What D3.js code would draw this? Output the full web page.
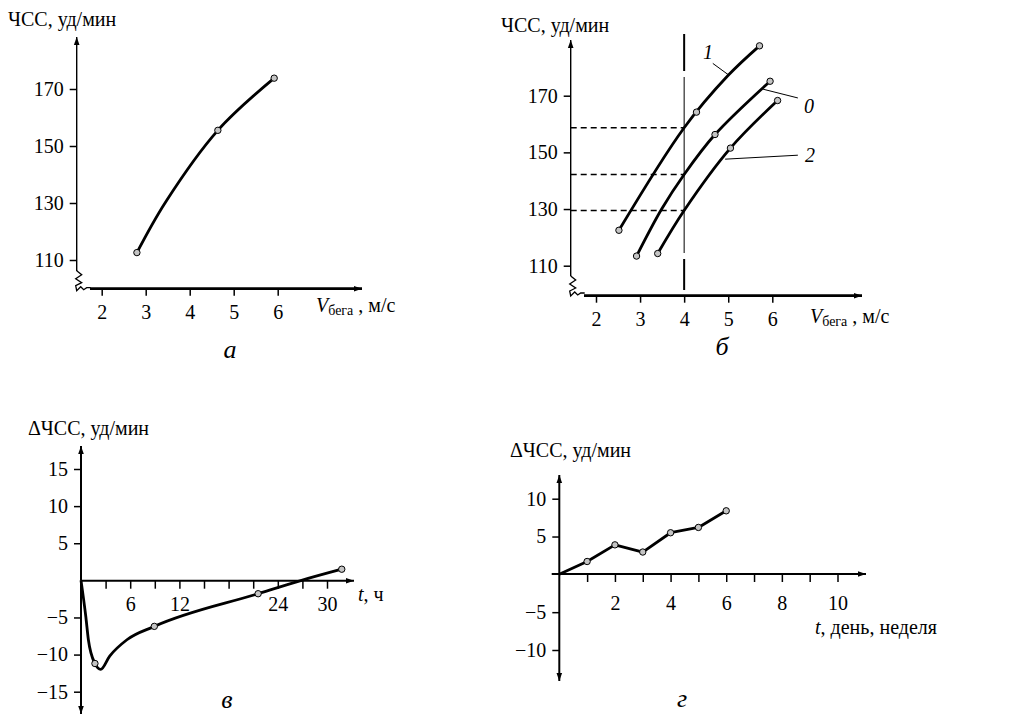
<!DOCTYPE html>
<html>
<head>
<meta charset="utf-8">
<script src="https://cdn.jsdelivr.net/npm/d3@7"></script>
</head>
<body style="margin:0; background:#fff">
<div id="chart"></div>
<script>
/* global d3 */

// panel a: ЧСС vs speed
let aTicksX = [2, 3, 4, 5, 6];
let aTicksY = [110, 130, 150, 170];
let aCurve = [[2.8, 112.6], [3.45, 130.3], [4.64, 155.5], [5.92, 173.8]];
let aPoints = [[2.8, 112.6], [4.64, 155.5], [5.92, 173.8]];

// panel b: three curves (1, 0, 2)
let bTicksX = [2, 3, 4, 5, 6];
let bTicksY = [110, 130, 150, 170];
let bCurve1 = [[2.52, 122.5], [4, 158.7], [5.0, 177.2], [5.71, 187.6]];
let bCurve0 = [[2.92, 113.4], [3.49, 130], [4, 142.2], [4.7, 156.3], [5.95, 175.1]];
let bCurve2 = [[3.4, 114.3], [4, 129.5], [5.05, 151.5], [6.12, 168.3]];
let bPoints1 = [[2.52, 122.5], [4.28, 164.2], [5.71, 187.6]];
let bPoints0 = [[2.92, 113.4], [4.7, 156.3], [5.95, 175.1]];
let bPoints2 = [[3.4, 114.3], [5.05, 151.5], [6.12, 168.3]];
let bLevel = 4;
let bCrossings = [158.7, 142.2, 129.5];
let bLabels = [
    {name: "1", text: [4.43, 183.1], from: [4.65, 181.4], to: [5.02, 177.2]},
    {name: "0", text: [6.72, 164], from: [5.79, 172.3], to: [6.58, 169.2]},
    {name: "2", text: [6.74, 146.6], from: [4.93, 147.6], to: [6.58, 149]}
];

// panel в: ΔЧСС over hours
let cTicksX = [3, 6, 9, 12, 15, 18, 21, 24, 27, 30];
let cTickLabels = [6, 12, 24, 30];
let cTicksY = [-15, -10, -5, 5, 10, 15];
let cCurve = [[0, 0], [0.6, -5], [0.9, -8], [1.7, -11.2], [2.4, -12], [3.5, -10.2], [5.6, -8], [8.94, -6.2], [21.6, -1.8], [26.9, 0], [31.8, 1.5]];
let cPoints = [[1.7, -11.2], [8.94, -6.2], [21.6, -1.8], [31.8, 1.5]];

// panel г: ΔЧСС over days / weeks
let dTicksX = [1, 2, 3, 4, 5, 6, 7, 8, 9, 10];
let dTickLabels = [2, 4, 6, 8, 10];
let dTicksY = [-10, -5, 5, 10];
let dTimes = [0, 1, 2, 3, 4, 5, 6];
let dValues = [0, 1.7, 3.9, 2.95, 5.5, 6.2, 8.4];

// one family only: a comma list falls back to sans here
let serif = "'Liberation Serif'";

let svg = d3.select("#chart").append("svg")
    .attr("width", 1010)
    .attr("height", 714)
    .style("font-family", serif);

svg.append("defs").append("marker")
    .attr("id", "arrow")
    .attr("viewBox", "0 0 10 10")
    .attr("refX", 10)
    .attr("refY", 5)
    .attr("markerWidth", 10)
    .attr("markerHeight", 8)
    .attr("markerUnits", "userSpaceOnUse")
    .attr("orient", "auto-start-reverse")
    .append("path")
    .attr("d", "M0,1.5 L10,5 L0,8.5 Z")
    .attr("fill", "#000");

let intFmt = d3.format("d");

function styleAxis(g) {
    g.select(".domain").remove();
    g.attr("font-size", 20).attr("font-family", null);
    g.selectAll(".tick line").attr("stroke", "#000").attr("stroke-width", 1.5);
    g.selectAll(".tick text").attr("fill", "#000");
}

function axisLine(x1, y1, x2, y2, w) {
    return svg.append("line")
        .attr("x1", x1).attr("y1", y1)
        .attr("x2", x2).attr("y2", y2)
        .attr("stroke", "#000")
        .attr("stroke-width", w)
        .attr("marker-end", "url(#arrow)");
}

function zigzag(x0, y0) {
    let pts = [[0, 0], [5, 4], [-1, 8], [5, 12], [-1, 15], [0, 20], [4, 16], [7, 19], [10, 17], [14, 17]];
    svg.append("path")
        .attr("d", d3.line()(pts.map(p => [x0 + p[0], y0 + p[1]])))
        .attr("fill", "none")
        .attr("stroke", "#000")
        .attr("stroke-width", 1.3);
}

function drawCurve(data, x, y, curve, w) {
    svg.append("path")
        .datum(data)
        .attr("d", d3.line().x(d => x(d[0])).y(d => y(d[1])).curve(curve))
        .attr("fill", "none")
        .attr("stroke", "#000")
        .attr("stroke-width", w)
        .attr("stroke-linejoin", "round");
}

function drawPoints(data, x, y) {
    svg.append("g").selectAll("circle")
        .data(data)
        .enter().append("circle")
        .attr("cx", d => x(d[0]))
        .attr("cy", d => y(d[1]))
        .attr("r", 3.2)
        .attr("fill", "#c4c4c4")
        .attr("stroke", "#000")
        .attr("stroke-width", 1);
}

function title(x, y, str) {
    svg.append("text").attr("x", x).attr("y", y).attr("font-size", 20).text(str);
}

function speedLabel(x, y) {
    let t = svg.append("text").attr("x", x).attr("y", y).attr("font-size", 20);
    t.append("tspan").attr("font-style", "italic").text("V");
    t.append("tspan").attr("font-size", 14).attr("dy", 3).text("бега");
    t.append("tspan").attr("dy", -3).text(" , м/с");
}

function panelLetter(x, y, str) {
    svg.append("text").attr("x", x).attr("y", y)
        .attr("font-size", 26)
        .attr("font-style", "italic")
        .attr("text-anchor", "middle")
        .text(str);
}

// ---- panel a ----
let ax = d3.scaleLinear().domain([2, 6]).range([101.7, 277.7]);
let ay = d3.scaleLinear().domain([110, 170]).range([260, 89]);

title(8, 26, "ЧСС, уд/мин");
axisLine(76.7, 271, 76.7, 37, 1.4);
zigzag(76.7, 270.7);
axisLine(90, 288.7, 362, 288.7, 2.8);

svg.append("g")
    .attr("transform", "translate(76.7,0)")
    .call(d3.axisLeft(ay).tickValues(aTicksY).tickFormat(intFmt).tickSize(7).tickPadding(6))
    .call(styleAxis);
svg.append("g")
    .attr("transform", "translate(0,288.7)")
    .call(d3.axisBottom(ax).tickValues(aTicksX).tickFormat(intFmt).tickSize(7).tickPadding(9))
    .call(styleAxis);

drawCurve(aCurve, ax, ay, d3.curveCatmullRom, 2.8);
drawPoints(aPoints, ax, ay);
speedLabel(316, 312);
panelLetter(230, 358, "а");

// ---- panel b ----
let bx = d3.scaleLinear().domain([2, 6]).range([596, 772.3]);
let by = d3.scaleLinear().domain([110, 170]).range([265.7, 95.7]);

title(501, 32, "ЧСС, уд/мин");
axisLine(570.7, 276, 570.7, 40, 1.4);
zigzag(570.7, 276);
axisLine(584, 295.7, 862, 295.7, 2.8);

svg.append("g")
    .attr("transform", "translate(570.7,0)")
    .call(d3.axisLeft(by).tickValues(bTicksY).tickFormat(intFmt).tickSize(7).tickPadding(6))
    .call(styleAxis);
svg.append("g")
    .attr("transform", "translate(0,295.7)")
    .call(d3.axisBottom(bx).tickValues(bTicksX).tickFormat(intFmt).tickSize(7).tickPadding(9))
    .call(styleAxis);

// vertical line at V = 4
let vx = bx(bLevel);
svg.append("line").attr("x1", vx).attr("x2", vx).attr("y1", 34).attr("y2", 71)
    .attr("stroke", "#000").attr("stroke-width", 2);
svg.append("line").attr("x1", vx).attr("x2", vx).attr("y1", 77).attr("y2", 253)
    .attr("stroke", "#000").attr("stroke-width", 1);
svg.append("line").attr("x1", vx).attr("x2", vx).attr("y1", 259).attr("y2", 290)
    .attr("stroke", "#000").attr("stroke-width", 2);

svg.append("g").selectAll("line")
    .data(bCrossings)
    .enter().append("line")
    .attr("x1", 570.7)
    .attr("x2", vx)
    .attr("y1", d => by(d))
    .attr("y2", d => by(d))
    .attr("stroke", "#000")
    .attr("stroke-width", 1.5)
    .attr("stroke-dasharray", "6,4");

drawCurve(bCurve1, bx, by, d3.curveCatmullRom, 2.8);
drawCurve(bCurve0, bx, by, d3.curveCatmullRom, 2.8);
drawCurve(bCurve2, bx, by, d3.curveCatmullRom, 2.8);
drawPoints(bPoints1, bx, by);
drawPoints(bPoints0, bx, by);
drawPoints(bPoints2, bx, by);

bLabels.forEach(function(d) {
    svg.append("line")
        .attr("x1", bx(d.from[0])).attr("y1", by(d.from[1]))
        .attr("x2", bx(d.to[0])).attr("y2", by(d.to[1]))
        .attr("stroke", "#000").attr("stroke-width", 1);
    svg.append("text")
        .attr("x", bx(d.text[0])).attr("y", by(d.text[1]))
        .attr("font-size", 20).attr("font-style", "italic")
        .text(d.name);
});

speedLabel(810, 322.7);
panelLetter(722, 355, "б");

// ---- panel в ----
let cx = d3.scaleLinear().domain([0, 30]).range([81, 327]);
let cy = d3.scaleLinear().domain([-15, 15]).range([691.7, 469]);

title(28, 435, "ΔЧСС, уд/мин");
axisLine(81, 580.7, 81, 446, 2);
axisLine(81, 580.7, 81, 714, 2);
axisLine(81, 580.7, 354, 580.7, 2);

svg.append("g")
    .attr("transform", "translate(81,0)")
    .call(d3.axisLeft(cy).tickValues(cTicksY).tickSize(7).tickPadding(6))
    .call(styleAxis);
svg.append("g")
    .attr("transform", "translate(0,580.7)")
    .call(d3.axisBottom(cx).tickValues(cTicksX).tickSize(8).tickPadding(8)
        .tickFormat(d => cTickLabels.includes(d) ? d : ""))
    .call(styleAxis);

drawCurve(cCurve, cx, cy, d3.curveMonotoneX, 2.8);
drawPoints(cPoints, cx, cy);

let ct = svg.append("text").attr("x", 358).attr("y", 601).attr("font-size", 20);
ct.append("tspan").attr("font-style", "italic").text("t");
ct.append("tspan").text(", ч");
panelLetter(227, 708, "в");

// ---- panel г ----
let dx = d3.scaleLinear().domain([0, 10]).range([559.3, 837.5]);
let dy = d3.scaleLinear().domain([-10, 10]).range([650, 498.7]);

title(510, 457, "ΔЧСС, уд/мин");
axisLine(559.3, 574, 559.3, 475, 2);
axisLine(559.3, 574, 559.3, 681, 2);
axisLine(551.7, 574, 866, 574, 2);

svg.append("g")
    .attr("transform", "translate(559.3,0)")
    .call(d3.axisLeft(dy).tickValues(dTicksY).tickSize(7).tickPadding(6))
    .call(styleAxis);
svg.append("g")
    .attr("transform", "translate(0,574)")
    .call(d3.axisBottom(dx).tickValues(dTicksX).tickSize(8).tickPadding(14)
        .tickFormat(d => dTickLabels.includes(d) ? d : ""))
    .call(styleAxis);

let dData = dTimes.map((t, i) => [t, dValues[i]]);
drawCurve(dData, dx, dy, d3.curveLinear, 2.8);
drawPoints(dData.slice(1), dx, dy);

let dt = svg.append("text").attr("x", 815).attr("y", 634).attr("font-size", 20);
dt.append("tspan").attr("font-style", "italic").text("t");
dt.append("tspan").text(", день, неделя");
panelLetter(682, 707, "г");

svg.selectAll("text").style("font-family", serif);
</script>
</body>
</html>
